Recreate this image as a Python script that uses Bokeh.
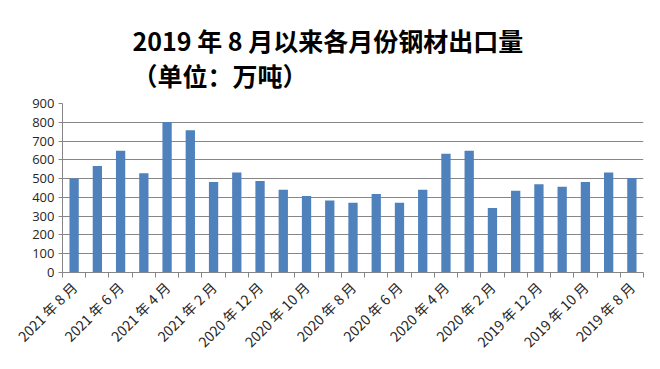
from bokeh.plotting import figure
from bokeh.models import FixedTicker, Title, Range1d
from bokeh.embed import file_html
from bokeh.resources import INLINE
import math

months = ["2021 年 8 月", "2021 年 7 月", "2021 年 6 月", "2021 年 5 月", "2021 年 4 月",
          "2021 年 3 月", "2021 年 2 月", "2021 年 1 月", "2020 年 12 月", "2020 年 11 月",
          "2020 年 10 月", "2020 年 9 月", "2020 年 8 月", "2020 年 7 月", "2020 年 6 月",
          "2020 年 5 月", "2020 年 4 月", "2020 年 3 月", "2020 年 2 月", "2020 年 1 月",
          "2019 年 12 月", "2019 年 11 月", "2019 年 10 月", "2019 年 9 月", "2019 年 8 月"]
exports = [501, 567, 648, 528, 801, 758, 482, 533, 487, 441, 407, 383, 372, 418, 372,
           441, 633, 648, 344, 436, 470, 457, 482, 533, 503]
y_ticks = [0, 100, 200, 300, 400, 500, 600, 700, 800, 900]
title_line1 = "2019 年 8 月以来各月份钢材出口量"
title_line2 = "（单位：万吨）"

xs = list(range(len(months)))

p = figure(width=652, height=361, output_backend="svg", toolbar_location=None,
           x_range=Range1d(-0.5, len(months) - 0.5), y_range=Range1d(0, 900))
p.min_border_left = 62
p.min_border_right = 9
p.min_border_bottom = 89
p.min_border_top = 103

p.vbar(x=xs, top=exports, width=0.4, fill_color="#4F81BD", line_color=None)

font = "Noto Sans CJK SC"
t = Title(text=title_line1 + "\n" + title_line2, align="left", offset=70, text_font=font,
          text_font_size="25px", text_font_style="bold", text_color="#000000",
          text_line_height=0.98, standoff=20)
p.add_layout(t, "above")

p.xaxis.ticker = FixedTicker(ticks=xs[::2], minor_ticks=[i - 0.5 for i in range(len(months) + 1)])
p.xaxis.major_label_overrides = {i: months[i] for i in xs[::2]}
p.xaxis.major_label_orientation = math.pi / 4
p.xaxis.major_tick_line_color = None
p.xaxis.minor_tick_out = 5
p.xaxis.minor_tick_in = 0
p.xaxis.minor_tick_line_color = "#868686"
p.xaxis.axis_line_color = "#868686"
p.xaxis.major_label_text_font = font
p.xaxis.major_label_text_font_size = "14px"
p.xaxis.major_label_text_color = "#262626"
p.xaxis.major_label_standoff = 6

p.yaxis.ticker = FixedTicker(ticks=y_ticks)
p.yaxis.axis_line_color = "#868686"
p.yaxis.major_tick_line_color = "#868686"
p.yaxis.major_tick_out = 4
p.yaxis.major_tick_in = 0
p.yaxis.minor_tick_line_color = None
p.yaxis.major_label_text_font = "Open Sans"
p.yaxis.major_label_text_font_size = "13px"
p.yaxis.major_label_text_color = "#262626"
p.yaxis.major_label_standoff = 4

p.xgrid.grid_line_color = None
p.ygrid.grid_line_color = "#868686"
p.ygrid.grid_line_width = 1
p.outline_line_color = None
p.background_fill_color = "white"
p.border_fill_color = "white"

open("out.html", "w").write(file_html(p, INLINE))
